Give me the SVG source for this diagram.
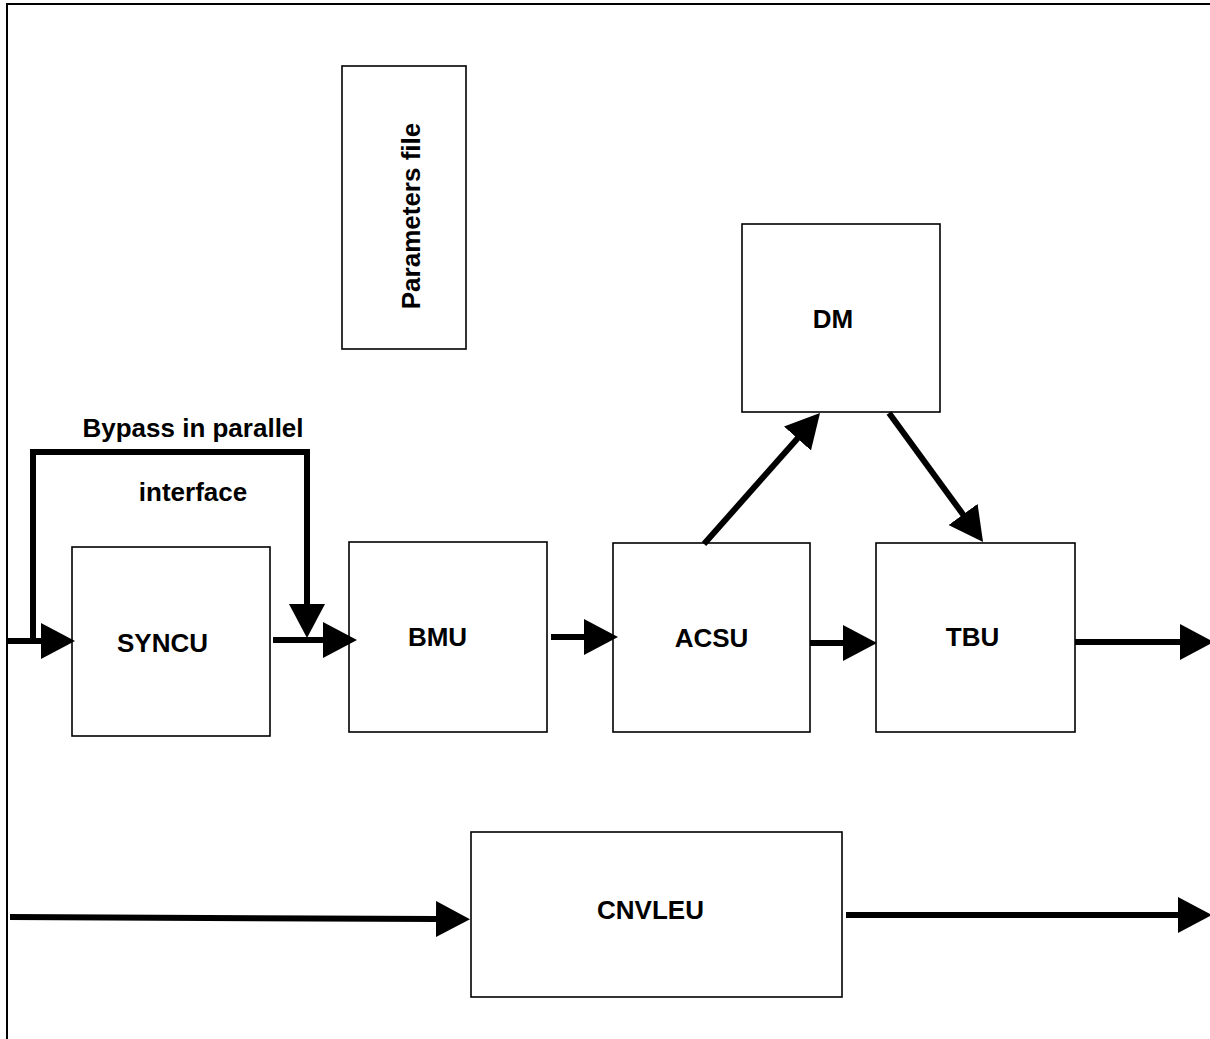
<svg xmlns="http://www.w3.org/2000/svg" width="1210" height="1039" viewBox="0 0 1210 1039">
  <style>
    .box { fill: #ffffff; stroke: #000000; stroke-width: 1.6; }
    .lbl { font-family: "Liberation Sans", Arial, sans-serif; font-weight: bold; font-size: 26px; fill: #000000; text-anchor: middle; }
    .conn { fill: none; stroke: #000000; stroke-width: 6; stroke-linejoin: miter; marker-end: url(#head); }
    .plain { fill: none; stroke: #000000; stroke-width: 6; }
  </style>
  <defs>
    <marker id="head" viewBox="0 0 34 36" refX="2" refY="18" markerWidth="34" markerHeight="36" markerUnits="userSpaceOnUse" orient="auto">
      <path d="M0,0 L34,18 L0,36 Z" fill="#000000"/>
    </marker>
  </defs>
  <rect x="0" y="0" width="1210" height="1039" fill="#ffffff"/>
  <rect id="frame" x="7" y="4" width="1300" height="1100" fill="none" stroke="#000000" stroke-width="2"/>

  <g id="parameters-file">
    <rect class="box" x="342" y="66" width="124" height="283"/>
    <text class="lbl" transform="translate(420,216) rotate(-90)" x="0" y="0">Parameters file</text>
  </g>
  <g id="dm">
    <rect class="box" x="742" y="224" width="198" height="188"/>
    <text class="lbl" x="833" y="328">DM</text>
  </g>
  <g id="syncu">
    <rect class="box" x="72" y="547" width="198" height="189"/>
    <text class="lbl" x="162.5" y="652">SYNCU</text>
  </g>
  <g id="bmu">
    <rect class="box" x="349" y="542" width="198" height="190"/>
    <text class="lbl" x="437.5" y="646">BMU</text>
  </g>
  <g id="acsu">
    <rect class="box" x="613" y="543" width="197" height="189"/>
    <text class="lbl" x="711.5" y="647">ACSU</text>
  </g>
  <g id="tbu">
    <rect class="box" x="876" y="543" width="199" height="189"/>
    <text class="lbl" x="972.5" y="646">TBU</text>
  </g>
  <g id="cnvleu">
    <rect class="box" x="471" y="832" width="371" height="165"/>
    <text class="lbl" x="650.5" y="919">CNVLEU</text>
  </g>

  <g id="bypass-label">
    <text class="lbl" x="193" y="437">Bypass in parallel</text>
    <text class="lbl" x="193" y="501">interface</text>
  </g>

  <g id="connectors">
    <path class="conn" d="M7,641 H43"/>
    <path class="conn" d="M33,644 V452 H307 V606"/>
    <path class="conn" d="M273,640 H325"/>
    <path class="conn" d="M551,637 H586"/>
    <path class="conn" d="M810,643 H845"/>
    <path class="conn" d="M1075,642 H1182"/>
    <path class="conn" d="M10,917 L438,919"/>
    <path class="conn" d="M846,915 H1180"/>
    <path class="conn" d="M704,544 L798.8,437"/>
    <path class="conn" d="M889,413 L964.2,516.1"/>
  </g>
</svg>
